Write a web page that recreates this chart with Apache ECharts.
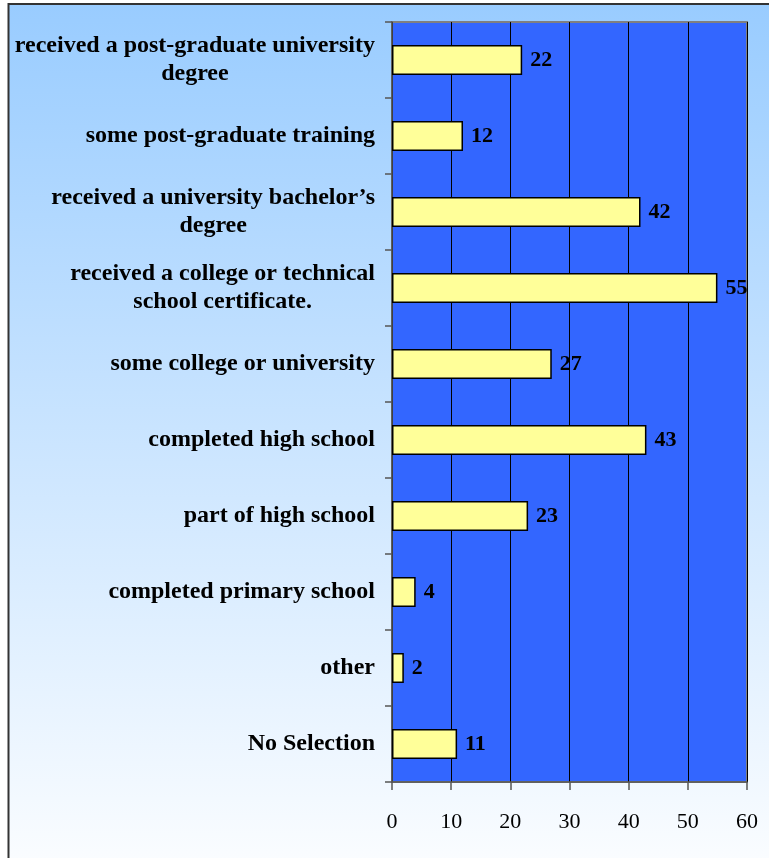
<!DOCTYPE html>
<html>
<head>
<meta charset="utf-8">
<title>Education level</title>
<script src="https://cdn.jsdelivr.net/npm/echarts@6/dist/echarts.min.js"></script>
<style>
  html, body { margin: 0; padding: 0; background: #ffffff; }
  #chart { width: 769px; height: 858px; }
</style>
</head>
<body>
<div id="chart"></div>
<script>
// Categories, top to bottom (line breaks where the labels wrap)
const categories = [
  'received a post-graduate university\ndegree',
  'some post-graduate training',
  'received a university bachelor\u2019s\ndegree',
  'received a college or technical\nschool certificate.',
  'some college or university',
  'completed high school',
  'part of high school',
  'completed primary school',
  'other',
  'No Selection'
];
// Number of respondents per category
const counts = [22, 12, 42, 55, 27, 43, 23, 4, 2, 11];
// Value axis ticks
const axisMin = 0;
const axisMax = 60;
const axisStep = 10;

const serif = '"Liberation Serif", "Times New Roman", serif';

const chart = echarts.init(document.getElementById('chart'), null, { renderer: 'canvas' });

chart.setOption({
  animation: false,
  graphic: [{
    type: 'rect',
    z: -100,
    shape: { x: 8.5, y: 4, width: 800, height: 900 },
    style: {
      fill: new echarts.graphic.LinearGradient(0, 0, 0, 1, [
        { offset: 0, color: '#99CCFF' },
        { offset: 1, color: '#FFFFFF' }
      ]),
      stroke: '#333333',
      lineWidth: 2
    }
  }],
  grid: {
    left: 392,
    right: 22,
    top: 22,
    bottom: 76,
    show: true,
    backgroundColor: '#3366FF',
    borderColor: '#808080',
    borderWidth: 2
  },
  xAxis: {
    type: 'value',
    min: axisMin,
    max: axisMax,
    interval: axisStep,
    axisLine: { show: true, lineStyle: { color: '#555555', width: 1.5 } },
    axisTick: { show: true, length: 8, lineStyle: { color: '#555555', width: 1.5 } },
    splitLine: { show: true, lineStyle: { color: '#000000', width: 1 } },
    axisLabel: {
      color: '#000000',
      fontFamily: serif,
      fontSize: 22,
      margin: 29
    }
  },
  yAxis: {
    type: 'category',
    inverse: true,
    data: categories,
    axisLine: { show: true, lineStyle: { color: '#555555', width: 1.5 } },
    axisTick: { show: true, length: 7, alignWithLabel: false, lineStyle: { color: '#555555', width: 1.5 } },
    splitLine: { show: false },
    axisLabel: {
      margin: 17,
      align: 'right',
      formatter: function (v) {
        return v.split('\n').map(function (s) { return '{c|' + s + '}'; }).join('\n');
      },
      rich: {
        c: {
          align: 'center',
          color: '#000000',
          fontFamily: serif,
          fontWeight: 'bold',
          fontSize: 24,
          lineHeight: 28
        }
      }
    }
  },
  series: [{
    type: 'bar',
    data: counts,
    barWidth: 30,
    itemStyle: {
      color: '#FFFF99',
      borderColor: '#000000',
      borderWidth: 1.5
    },
    label: {
      show: true,
      position: 'right',
      distance: 8,
      color: '#000000',
      fontFamily: serif,
      fontWeight: 'bold',
      fontSize: 22
    }
  }]
});
</script>
</body>
</html>
